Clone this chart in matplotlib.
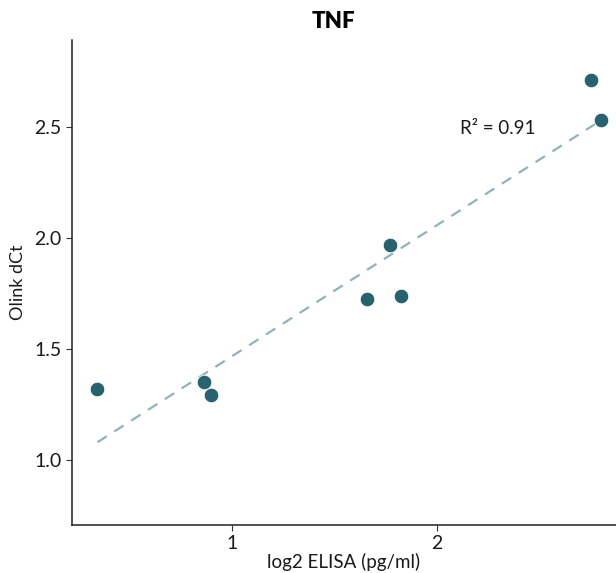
import numpy as np
import matplotlib
matplotlib.use("Agg")
import matplotlib.pyplot as plt

# Data
elisa_log2 = [0.344, 0.862, 0.899, 1.657, 1.772, 1.823, 2.751, 2.799]
olink_dct = [1.320, 1.353, 1.294, 1.725, 1.968, 1.740, 2.712, 2.532]
x_ticks = [1, 2]
y_ticks = [1.0, 1.5, 2.0, 2.5]
y_ticklabels = ["1.0", "1.5", "2.0", "2.5"]
title = "TNF"
x_label = "log2 ELISA (pg/ml)"
y_label = "Olink dCt"
r2_label = "R\u00b2 = 0.91"

plt.rcParams['font.family'] = ['Lato', 'DejaVu Sans']

fig = plt.figure(figsize=(6.16, 5.73), dpi=100)
ax = fig.add_axes([72 / 616, 1 - 525 / 573, (616 - 72) / 616, (525 - 40) / 573])

x = np.array(elisa_log2)
y = np.array(olink_dct)
slope, intercept = np.polyfit(x, y, 1)
xl = np.array([x.min(), x.max()])
ax.plot(xl, slope * xl + intercept, color="#8fb3bb", lw=1.6, dashes=(5, 4), zorder=1)

ax.scatter(x, y, s=110, color="#27636f", edgecolor="white", linewidth=0.6, zorder=3)

ax.text(2.112, 2.495, r2_label, ha="left", va="center", fontsize=13.5, color="#1a1a1a")

ax.set_xlim(0.22, 2.873)
ax.set_ylim(0.708, 2.893)
ax.set_xticks(x_ticks)
ax.set_xticklabels([str(t) for t in x_ticks])
ax.set_yticks(y_ticks)
ax.set_yticklabels(y_ticklabels)
ax.tick_params(axis="both", labelsize=14, colors="#333333", labelcolor="#1a1a1a", length=4, width=0.8)

for s in ["top", "right"]:
    ax.spines[s].set_visible(False)
for s in ["left", "bottom"]:
    ax.spines[s].set_color("#222222")
    ax.spines[s].set_linewidth(1.1)

ax.set_xlabel(x_label, fontsize=13.5, color="#1a1a1a", labelpad=0.5)
ax.set_ylabel(y_label, fontsize=13, color="#1a1a1a", labelpad=6)

fig.text(333 / 616, 1 - 22 / 573, title, ha="center", va="center", fontsize=16, fontweight="heavy", color="#000000")

fig.savefig("out.png", dpi=100)
